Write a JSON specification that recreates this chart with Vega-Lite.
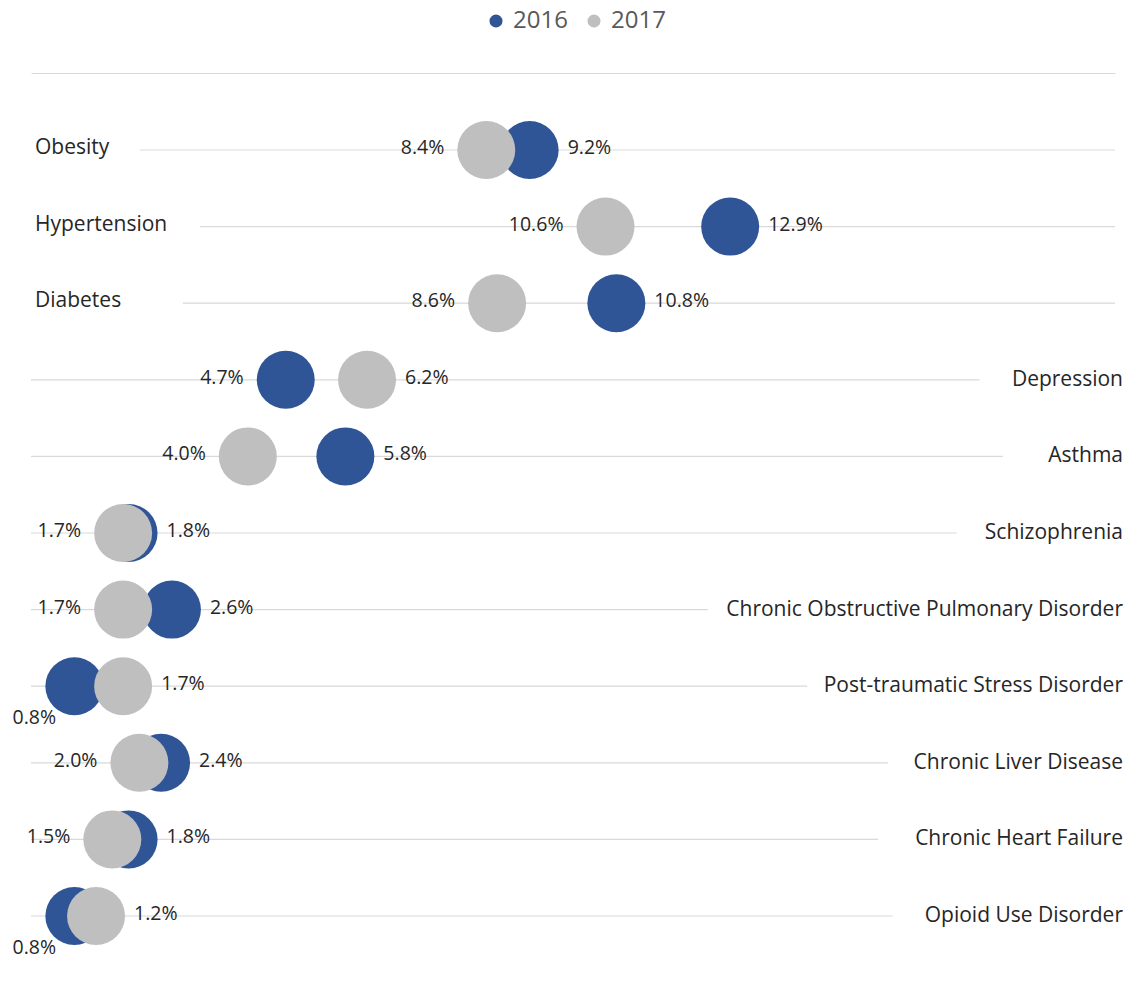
{
  "$schema": "https://vega.github.io/schema/vega-lite/v6.json",
  "width": 1084,
  "height": 766,
  "autosize": {"type": "none"},
  "padding": {"left": 31, "top": 150, "right": 17, "bottom": 72},
  "background": "white",
  "config": {
    "view": {"stroke": null},
    "font": "Open Sans",
    "axisTop": {"domain": true, "domainColor": "#D9D9D9", "domainWidth": 1.2, "ticks": false, "labels": false, "grid": false, "title": null, "offset": 77}
  },
  "datasets": {
    "points": [
      {"condition": "Obesity", "year": "2016", "value": 0.092, "pos": "right"},
      {"condition": "Hypertension", "year": "2016", "value": 0.129, "pos": "right"},
      {"condition": "Diabetes", "year": "2016", "value": 0.108, "pos": "right"},
      {"condition": "Depression", "year": "2016", "value": 0.047, "pos": "left"},
      {"condition": "Asthma", "year": "2016", "value": 0.058, "pos": "right"},
      {"condition": "Schizophrenia", "year": "2016", "value": 0.018, "pos": "right"},
      {"condition": "Chronic Obstructive Pulmonary Disorder", "year": "2016", "value": 0.026, "pos": "right"},
      {"condition": "Post-traumatic Stress Disorder", "year": "2016", "value": 0.008, "pos": "below"},
      {"condition": "Chronic Liver Disease", "year": "2016", "value": 0.024, "pos": "right"},
      {"condition": "Chronic Heart Failure", "year": "2016", "value": 0.018, "pos": "right"},
      {"condition": "Opioid Use Disorder", "year": "2016", "value": 0.008, "pos": "below"},
      {"condition": "Obesity", "year": "2017", "value": 0.084, "pos": "left"},
      {"condition": "Hypertension", "year": "2017", "value": 0.106, "pos": "left"},
      {"condition": "Diabetes", "year": "2017", "value": 0.086, "pos": "left"},
      {"condition": "Depression", "year": "2017", "value": 0.062, "pos": "right"},
      {"condition": "Asthma", "year": "2017", "value": 0.040, "pos": "left"},
      {"condition": "Schizophrenia", "year": "2017", "value": 0.017, "pos": "left"},
      {"condition": "Chronic Obstructive Pulmonary Disorder", "year": "2017", "value": 0.017, "pos": "left"},
      {"condition": "Post-traumatic Stress Disorder", "year": "2017", "value": 0.017, "pos": "right"},
      {"condition": "Chronic Liver Disease", "year": "2017", "value": 0.020, "pos": "left"},
      {"condition": "Chronic Heart Failure", "year": "2017", "value": 0.015, "pos": "left"},
      {"condition": "Opioid Use Disorder", "year": "2017", "value": 0.012, "pos": "right"}
    ],
    "grid": [
      {"condition": "Obesity", "side": "left", "from": 0.0201, "to": 0.2},
      {"condition": "Hypertension", "side": "left", "from": 0.0312, "to": 0.2},
      {"condition": "Diabetes", "side": "left", "from": 0.028, "to": 0.2},
      {"condition": "Depression", "side": "right", "from": 0, "to": 0.175},
      {"condition": "Asthma", "side": "right", "from": 0, "to": 0.1793},
      {"condition": "Schizophrenia", "side": "right", "from": 0, "to": 0.1708},
      {"condition": "Chronic Obstructive Pulmonary Disorder", "side": "right", "from": 0, "to": 0.1249},
      {"condition": "Post-traumatic Stress Disorder", "side": "right", "from": 0, "to": 0.1432},
      {"condition": "Chronic Liver Disease", "side": "right", "from": 0, "to": 0.1581},
      {"condition": "Chronic Heart Failure", "side": "right", "from": 0, "to": 0.1563},
      {"condition": "Opioid Use Disorder", "side": "right", "from": 0, "to": 0.159}
    ]
  },
  "encoding": {
    "y": {
      "field": "condition",
      "type": "nominal",
      "scale": {
        "type": "point",
        "padding": 0,
        "domain": ["Obesity", "Hypertension", "Diabetes", "Depression", "Asthma", "Schizophrenia", "Chronic Obstructive Pulmonary Disorder", "Post-traumatic Stress Disorder", "Chronic Liver Disease", "Chronic Heart Failure", "Opioid Use Disorder"]
      },
      "axis": null
    }
  },
  "layer": [
    {
      "data": {"name": "grid"},
      "mark": {"type": "rule", "color": "#D9D9D9", "strokeWidth": 1.2},
      "encoding": {
        "x": {
          "field": "from", "type": "quantitative",
          "scale": {"domain": [0, 0.2], "nice": false, "zero": true},
          "axis": {"orient": "top"}
        },
        "x2": {"field": "to"}
      }
    },
    {
      "data": {"name": "grid"},
      "transform": [{"filter": "datum.side == 'left'"}],
      "mark": {"type": "text", "align": "left", "baseline": "middle", "dx": 4, "dy": -2, "fontSize": 21, "color": "#262626"},
      "encoding": {
        "x": {"datum": 0, "type": "quantitative", "scale": {"domain": [0, 0.2], "nice": false}, "axis": {"orient": "top"}},
        "text": {"field": "condition"}
      }
    },
    {
      "data": {"name": "grid"},
      "transform": [{"filter": "datum.side == 'right'"}],
      "mark": {"type": "text", "align": "right", "baseline": "middle", "dx": 8, "fontSize": 21, "color": "#262626"},
      "encoding": {
        "x": {"datum": 0.2, "type": "quantitative", "scale": {"domain": [0, 0.2], "nice": false}, "axis": {"orient": "top"}},
        "text": {"field": "condition"}
      }
    },
    {
      "data": {"name": "points"},
      "mark": {"type": "circle", "size": 3364, "opacity": 1},
      "encoding": {
        "x": {"field": "value", "type": "quantitative", "scale": {"domain": [0, 0.2], "nice": false}, "axis": {"orient": "top"}},
        "color": {
          "field": "year", "type": "nominal",
          "scale": {"domain": ["2016", "2017"], "range": ["#2F5597", "#BFBFBF"]},
          "legend": {
            "orient": "none", "legendX": 453, "legendY": -141, "direction": "horizontal",
            "title": null, "symbolType": "circle", "symbolSize": 170, "symbolOpacity": 1,
            "labelFontSize": 24, "labelColor": "#595959", "labelFont": "Open Sans",
            "columnPadding": 14, "labelOffset": 5, "padding": 0
          }
        }
      }
    },
    {
      "data": {"name": "points"},
      "transform": [{"filter": "datum.pos == 'right'"}],
      "mark": {"type": "text", "align": "left", "baseline": "middle", "dx": 38, "dy": -2, "fontSize": 19.5, "color": "#262626"},
      "encoding": {
        "x": {"field": "value", "type": "quantitative", "scale": {"domain": [0, 0.2], "nice": false}, "axis": {"orient": "top"}},
        "text": {"field": "value", "type": "quantitative", "format": ".1%"}
      }
    },
    {
      "data": {"name": "points"},
      "transform": [{"filter": "datum.pos == 'left'"}],
      "mark": {"type": "text", "align": "right", "baseline": "middle", "dx": -42, "dy": -2, "fontSize": 19.5, "color": "#262626"},
      "encoding": {
        "x": {"field": "value", "type": "quantitative", "scale": {"domain": [0, 0.2], "nice": false}, "axis": {"orient": "top"}},
        "text": {"field": "value", "type": "quantitative", "format": ".1%"}
      }
    },
    {
      "data": {"name": "points"},
      "transform": [{"filter": "datum.pos == 'below'"}],
      "mark": {"type": "text", "align": "center", "baseline": "middle", "dx": -40, "dy": 32, "fontSize": 19.5, "color": "#262626"},
      "encoding": {
        "x": {"field": "value", "type": "quantitative", "scale": {"domain": [0, 0.2], "nice": false}, "axis": {"orient": "top"}},
        "text": {"field": "value", "type": "quantitative", "format": ".1%"}
      }
    }
  ]
}
